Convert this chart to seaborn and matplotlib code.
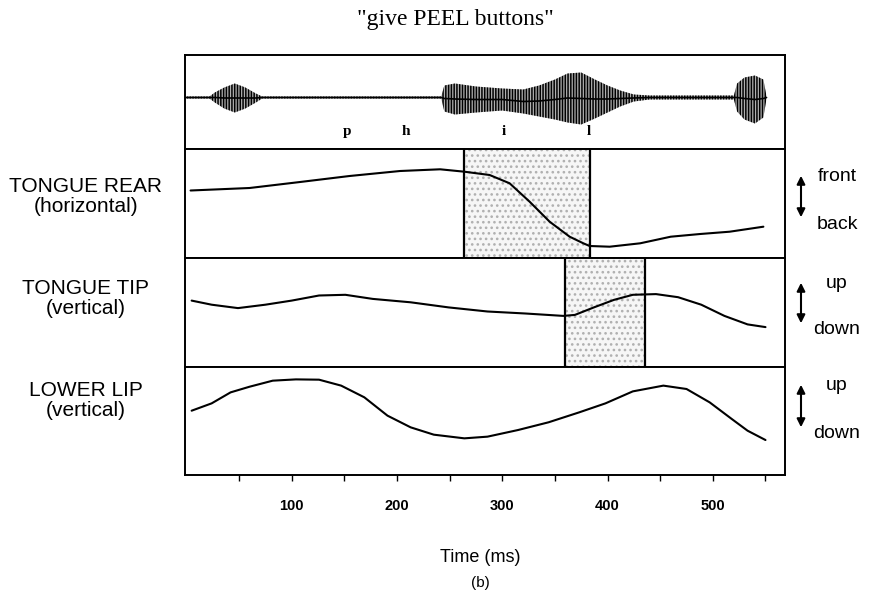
import numpy as np
import pandas as pd
import matplotlib.pyplot as plt
import seaborn as sns

# audio envelope (ms, amplitude above / below the baseline)
wave_ms = [0, 22, 27, 36, 46, 56, 66, 72, 150, 242, 245, 255, 275, 300, 320, 335, 350,
           362, 375, 388, 400, 412, 425, 440, 520, 523, 530, 540, 548, 551]
wave_hi = [1, 1, 5, 10, 14, 10, 4, 1, 1, 1, 12, 14, 11, 9, 8, 12, 18,
           24, 25, 18, 12, 7, 3, 2, 2, 14, 20, 22, 18, 1]
wave_lo = [1, 1, 5, 11, 15, 11, 5, 1, 1, 1, 14, 17, 15, 13, 16, 19, 22,
           25, 27, 21, 15, 9, 4, 2, 2, 14, 22, 26, 20, 1]

# articulator traces (ms, position)
rear_ms = [4, 60, 108, 155, 203, 241, 264, 288, 307, 326, 345, 364, 377, 383, 402,
           431, 460, 488, 516, 548]
rear_pos = [67.5, 70, 76, 82, 87, 88.7, 86.3, 83, 74.7, 56.3, 36.3, 21.3, 14.7, 12, 11.3,
            14.7, 21.3, 24, 26.3, 31.3]

tip_ms = [5, 24, 49, 75, 100, 126, 151, 177, 213, 249, 286, 322, 358, 369, 387, 406,
          424, 446, 467, 489, 511, 533, 550]
tip_pos = [66.4, 62.3, 58.9, 62.3, 66.4, 71.5, 72.2, 68.1, 64.7, 59.6, 55.5, 53.5, 51.1,
           52.1, 59.6, 67.1, 72.2, 72.9, 69.8, 62.3, 51.1, 42.6, 39.9]

lip_ms = [5, 24, 42, 60, 82, 104, 126, 147, 169, 191, 213, 235, 264, 286, 315, 344,
          373, 398, 424, 453, 475, 497, 518, 533, 550]
lip_pos = [64.9, 72.3, 83.4, 89.1, 95.2, 96.5, 96.2, 90.2, 78.4, 59.9, 48.1, 40.7, 37.0,
           38.7, 45.4, 53.2, 63.2, 72.3, 84.4, 90.2, 86.8, 73.3, 56.5, 44.7, 35.3]

rear_box = [264, 383]
tip_box = [360, 436]

phonemes = ['p', 'h', 'i', 'l']
phoneme_ms = [153, 208, 301, 382]

tick_ms = [100, 200, 300, 400, 500]
minor_ms = [50, 150, 250, 350, 450, 550]

sns.set_theme(style='white')
plt.rcParams['font.family'] = ['Liberation Sans', 'DejaVu Sans']
plt.rcParams['text.color'] = 'black'
plt.rcParams['xtick.color'] = 'black'
plt.rcParams['hatch.linewidth'] = 1.1

W, H = 870, 599
fig = plt.figure(figsize=(W / 100, H / 100), dpi=100)
gs = fig.add_gridspec(4, 1, height_ratios=[94, 109, 109, 108], hspace=0,
                      left=185 / W, right=785.5 / W, top=1 - 55 / H, bottom=1 - 475 / H)
axes = [fig.add_subplot(gs[i]) for i in range(4)]


def fx(x):
    return x / W


def fy(y):
    return 1 - y / H


for ax in axes:
    ax.set_xlim(-1.3, 569)
    ax.set_yticks([])
    for s in ax.spines.values():
        s.set_color('black')
        s.set_linewidth(1.4)
    ax.set_xticks(tick_ms)
    ax.set_xticks(minor_ms, minor=True)
    ax.tick_params(axis='x', which='both', direction='out', length=4, width=1,
                   color='black', bottom=True, top=False, labelbottom=False)

# audio waveform
ax0 = axes[0]
lo = [-v for v in wave_lo]
mid = [(a + b) / 2 for a, b in zip(wave_hi, lo)]
ax0.fill_between(wave_ms, lo, wave_hi, facecolor='#b0b0b0', edgecolor='black',
                 hatch='||||||', linewidth=0)
sns.lineplot(x=wave_ms, y=mid, ax=ax0, color='black', linewidth=1.2)
ax0.set_ylim(-51.5, 42.5)
ax0.set_xlabel('')
ax0.set_ylabel('')
for p, t in zip(phonemes, phoneme_ms):
    ax0.text(t, -34, p, ha='center', va='center', fontsize=11, fontweight='bold',
             family='Liberation Serif')

traces = [(rear_ms, rear_pos, rear_box), (tip_ms, tip_pos, tip_box), (lip_ms, lip_pos, None)]
for ax, (ms, pos, box) in zip(axes[1:], traces):
    df = pd.DataFrame({'ms': ms, 'pos': pos})
    if box is not None:
        ax.axvspan(box[0], box[1], facecolor='#f6f6f6', edgecolor='#b0b0b0',
                   hatch='...', linewidth=0)
        for b in box:
            ax.axvline(b, color='black', linewidth=1.6)
    sns.lineplot(data=df, x='ms', y='pos', ax=ax, color='black', linewidth=1.5)
    ax.set_ylim(0, 109)
    ax.set_xlabel('')
    ax.set_ylabel('')

axes[-1].tick_params(axis='x', which='major', labelbottom=True, pad=13, labelsize=10.5)
for lab in axes[-1].get_xticklabels():
    lab.set_fontweight('bold')

fig.text(fx(480), fy(557), 'Time (ms)', ha='center', va='center', fontsize=13)
fig.text(fx(480), fy(583), '(b)', ha='center', va='center', fontsize=11)
fig.text(fx(455), fy(20), '"give PEEL buttons"', ha='center', va='center', fontsize=17,
         family='Liberation Serif')

left_labels = [('TONGUE REAR', '(horizontal)', 187), ('TONGUE TIP', '(vertical)', 288),
               ('LOWER LIP', '(vertical)', 390)]
for name, sub, y in left_labels:
    fig.text(fx(86), fy(y), name, ha='center', va='center', fontsize=15)
    fig.text(fx(86), fy(y + 20), sub, ha='center', va='center', fontsize=15)

right_labels = [('front', 'back', 173, 220), ('up', 'down', 280, 326), ('up', 'down', 382, 430)]
for top_lab, bot_lab, y0, y1 in right_labels:
    fig.add_artist(plt.matplotlib.patches.FancyArrowPatch(
        (fx(801), fy(y0)), (fx(801), fy(y1)), transform=fig.transFigure,
        arrowstyle='<|-|>', mutation_scale=12, color='black', linewidth=1.5))
    fig.text(fx(837), fy(y0 + 4), top_lab, ha='center', va='center', fontsize=14)
    fig.text(fx(837), fy(y1 + 4), bot_lab, ha='center', va='center', fontsize=14)

fig.savefig('out.png', dpi=100, facecolor='white')
